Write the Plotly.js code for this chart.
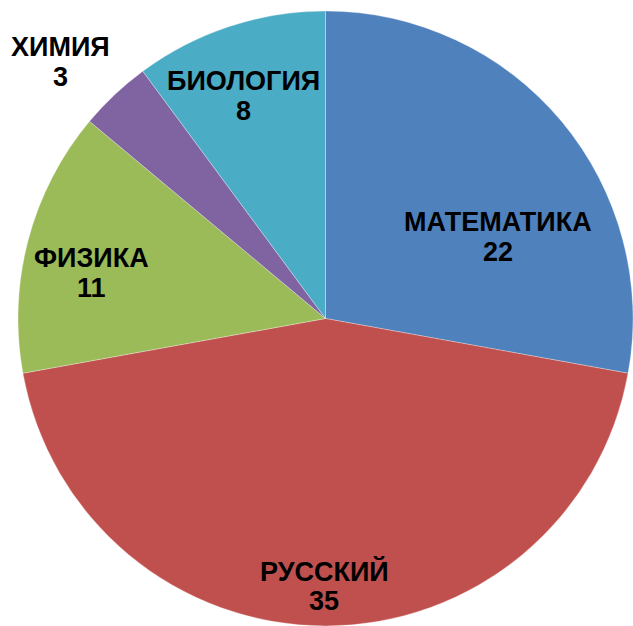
<!DOCTYPE html>
<html>
<head>
<meta charset="utf-8">
<script src="https://cdn.plot.ly/plotly-3.0.1.min.js"></script>
<style>html,body{margin:0;padding:0;background:#fff;}#chart{width:633px;height:626px;}</style>
</head>
<body>
<div id="chart"></div>
<script>
const subjects = ["МАТЕМАТИКА", "РУССКИЙ", "ФИЗИКА", "ХИМИЯ", "БИОЛОГИЯ"];
const counts = [22, 35, 11, 3, 8];
const colors = ["#4F81BD", "#C0504D", "#9BBB59", "#8064A2", "#4BACC6"];

// label placement: angular shift (deg) from slice mid-angle and radius fraction
const labelShift = [14.5, 0.3, -3.8, -2.6, -2.1];
const labelRadius = [0.62, 0.87, 0.774, 1.198, 0.772];

const W = 633, H = 626;
const domX = [18 / W, 1];
const domY = [0, 1 - 11 / H];

const total = counts.reduce((a, b) => a + b, 0);
const pxW = (domX[1] - domX[0]) * W, pxH = (domY[1] - domY[0]) * H;
const R = Math.min(pxW, pxH) / 2;
const cx = domX[0] * W + pxW / 2;
const cy = (1 - domY[1]) * H + pxH / 2;

const annotations = [];
let cum = 0;
const font = {family: "Liberation Sans, Arial, sans-serif", size: 27, color: "#000", weight: 700};
counts.forEach((v, i) => {
  const mid = (cum + v / 2) / total * 360 + labelShift[i];
  cum += v;
  const a = mid * Math.PI / 180;
  const px = cx + labelRadius[i] * R * Math.sin(a);
  const py = cy - labelRadius[i] * R * Math.cos(a);
  annotations.push({x: px / W, y: 1 - (py - 15) / H, xref: "paper", yref: "paper",
    text: "<b>" + subjects[i] + "</b>", showarrow: false, font: font, xanchor: "center", yanchor: "middle"});
  annotations.push({x: px / W, y: 1 - (py + 15) / H, xref: "paper", yref: "paper",
    text: "<b>" + v + "</b>", showarrow: false, font: font, xanchor: "center", yanchor: "middle"});
});

const trace = {
  type: "pie",
  labels: subjects,
  values: counts,
  sort: false,
  direction: "clockwise",
  rotation: 0,
  textinfo: "none",
  hoverinfo: "label+value",
  marker: {colors: colors, line: {color: "rgba(255,255,255,0.6)", width: 0.5}},
  domain: {x: domX, y: domY}
};

const layout = {
  width: W, height: H,
  margin: {l: 0, r: 0, t: 0, b: 0},
  showlegend: false,
  paper_bgcolor: "#fff",
  annotations: annotations
};

Plotly.newPlot("chart", [trace], layout, {displayModeBar: false, staticPlot: true});
</script>
</body>
</html>
